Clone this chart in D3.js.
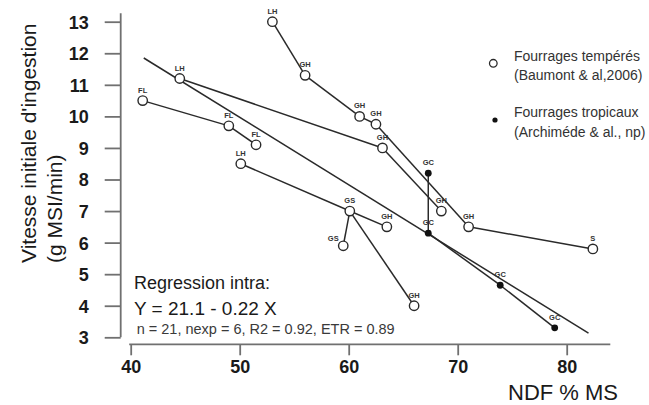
<!DOCTYPE html>
<html>
<head>
<meta charset="utf-8">
<script src="https://cdn.jsdelivr.net/npm/d3@7"></script>
<style>
  html, body { margin: 0; padding: 0; background: #fff; }
  svg { display: block; font-family: "Liberation Sans", Arial, sans-serif; }
</style>
</head>
<body>
<svg id="chart" width="649" height="405"></svg>
<script>
// ---- data ----
const pointLabels = ["LH","GH","GH","GH","GH","S","LH","GH","GH","FL","FL","FL","LH","GS","GH","GS","GH","GC","GC","GC","GC"];
const ndf         = [53.0, 56.0, 61.0, 62.5, 71.0, 82.4, 44.5, 63.1, 68.5, 41.1, 49.0, 51.5, 50.1, 60.1, 63.5, 59.5, 66.0, 67.3, 67.3, 73.9, 78.9];
const vitesse     = [13.0, 11.3, 10.0, 9.75, 6.5, 5.8, 11.2, 9.0, 7.0, 10.5, 9.7, 9.1, 8.5, 7.0, 6.5, 5.9, 4.0, 8.2, 6.3, 4.65, 3.3];
const fourrage    = ["T","T","T","T","T","T","T","T","T","T","T","T","T","T","T","T","T","P","P","P","P"]; // T = tempéré, P = tropical
const links = [[0,1],[1,2],[2,3],[3,4],[4,5],[6,7],[7,8],[9,10],[10,11],[12,13],[13,14],[13,15],[13,16],[17,18],[18,19],[19,20]];
const regX = [41.2, 82.0];
const regY = [11.85, 3.13];
const xTicks = [40, 50, 60, 70, 80];
const yTicks = [3, 4, 5, 6, 7, 8, 9, 10, 11, 12, 13];
const legendLines = [["Fourrages tempérés", "(Baumont & al,2006)"], ["Fourrages tropicaux", "(Archiméde & al., np)"]];
const regText = ["Regression intra:", "Y = 21.1 - 0.22 X", "n = 21, nexp = 6, R2 = 0.92, ETR = 0.89"];

// ---- scales ----
const svg = d3.select("#chart");
const x = d3.scaleLinear().domain([40, 84]).range([130.7, 610.3]);
const y = d3.scaleLinear().domain([3, 13]).range([337.3, 21.7]);
const axisColor = "#707070";

// x axis
const gx = svg.append("g").attr("transform", "translate(0,344.3)")
  .call(d3.axisBottom(x).tickValues(xTicks).tickSize(11).tickSizeOuter(0).tickPadding(5));
gx.select(".domain").attr("d", `M${x(40)-1.5},0H${x(84)}`);
// y axis
const gy = svg.append("g").attr("transform", "translate(120.7,0)")
  .call(d3.axisLeft(y).tickValues(yTicks).tickSize(16).tickSizeOuter(0).tickPadding(16));
gy.select(".domain").attr("d", `M0,${y(3)}V${y(13.27)}`);
[gx, gy].forEach(g => {
  g.selectAll(".domain, .tick line").attr("stroke", axisColor).attr("stroke-width", 1.8);
  g.selectAll(".tick text").attr("fill", "#1a1a1a").attr("font-size", 18).attr("font-weight", "bold")
   .attr("font-family", "'Liberation Sans', Arial, sans-serif");
});
gy.selectAll(".tick text").attr("dy", "0.36em");
gx.selectAll(".tick text").attr("dy", "0.71em");

// axis titles
svg.append("text").attr("x", 618).attr("y", 400).attr("text-anchor", "end")
  .attr("font-size", 22).attr("fill", "#1a1a1a").text("NDF % MS");
const yt = svg.append("g").attr("transform", "translate(0,263) rotate(-90)");
yt.append("text").attr("x", 0).attr("y", 36).attr("font-size", 21).attr("fill", "#1a1a1a")
  .text("Vitesse initiale d'ingestion");
yt.append("text").attr("x", 0).attr("y", 62).attr("font-size", 21).attr("fill", "#1a1a1a")
  .text("(g MSI/min)");

// connecting lines
const lineColor = "#2a2a2a";
svg.append("g").selectAll("line").data(links).join("line")
  .attr("x1", d => x(ndf[d[0]])).attr("y1", d => y(vitesse[d[0]]))
  .attr("x2", d => x(ndf[d[1]])).attr("y2", d => y(vitesse[d[1]]))
  .attr("stroke", lineColor).attr("stroke-width", 1.5);

// regression line
svg.append("line")
  .attr("x1", x(regX[0])).attr("y1", y(regY[0]))
  .attr("x2", x(regX[1])).attr("y2", y(regY[1]))
  .attr("stroke", lineColor).attr("stroke-width", 1.5);

// points
const idx = d3.range(ndf.length);
svg.append("g").selectAll("circle").data(idx).join("circle")
  .attr("cx", i => x(ndf[i])).attr("cy", i => y(vitesse[i]))
  .attr("r", i => fourrage[i] === "T" ? 4.7 : 3.4)
  .attr("fill", i => fourrage[i] === "T" ? "#fff" : "#111")
  .attr("stroke", i => fourrage[i] === "T" ? "#2a2a2a" : "none")
  .attr("stroke-width", 1.4);

// point labels
svg.append("g").selectAll("text").data(idx).join("text")
  .attr("x", i => x(ndf[i]) + (i === 15 ? -10 : 0))
  .attr("y", i => y(vitesse[i]) + (i === 15 ? -5 : -8))
  .attr("text-anchor", "middle").attr("font-size", 7.5).attr("font-weight", "bold")
  .attr("fill", "#333").text(i => pointLabels[i]);

// legend
svg.append("circle").attr("cx", 493.3).attr("cy", 63.3).attr("r", 3.8)
  .attr("fill", "#fff").attr("stroke", "#2a2a2a").attr("stroke-width", 1.3);
svg.append("circle").attr("cx", 495).attr("cy", 120).attr("r", 2.6).attr("fill", "#111");
const legY = [[60.7, 80], [117, 136.5]];
legendLines.forEach((pair, k) => {
  pair.forEach((t, j) => {
    svg.append("text").attr("x", 514).attr("y", legY[k][j]).attr("font-size", 14)
      .attr("fill", "#333").text(t);
  });
});

// regression annotation
svg.append("text").attr("x", 134).attr("y", 289).attr("font-size", 18).attr("fill", "#1a1a1a").text(regText[0]);
svg.append("text").attr("x", 134).attr("y", 315).attr("font-size", 19).attr("fill", "#1a1a1a").text(regText[1]);
svg.append("text").attr("x", 136.7).attr("y", 334).attr("font-size", 14.5).attr("fill", "#3a3a3a").text(regText[2]);
</script>
</body>
</html>
